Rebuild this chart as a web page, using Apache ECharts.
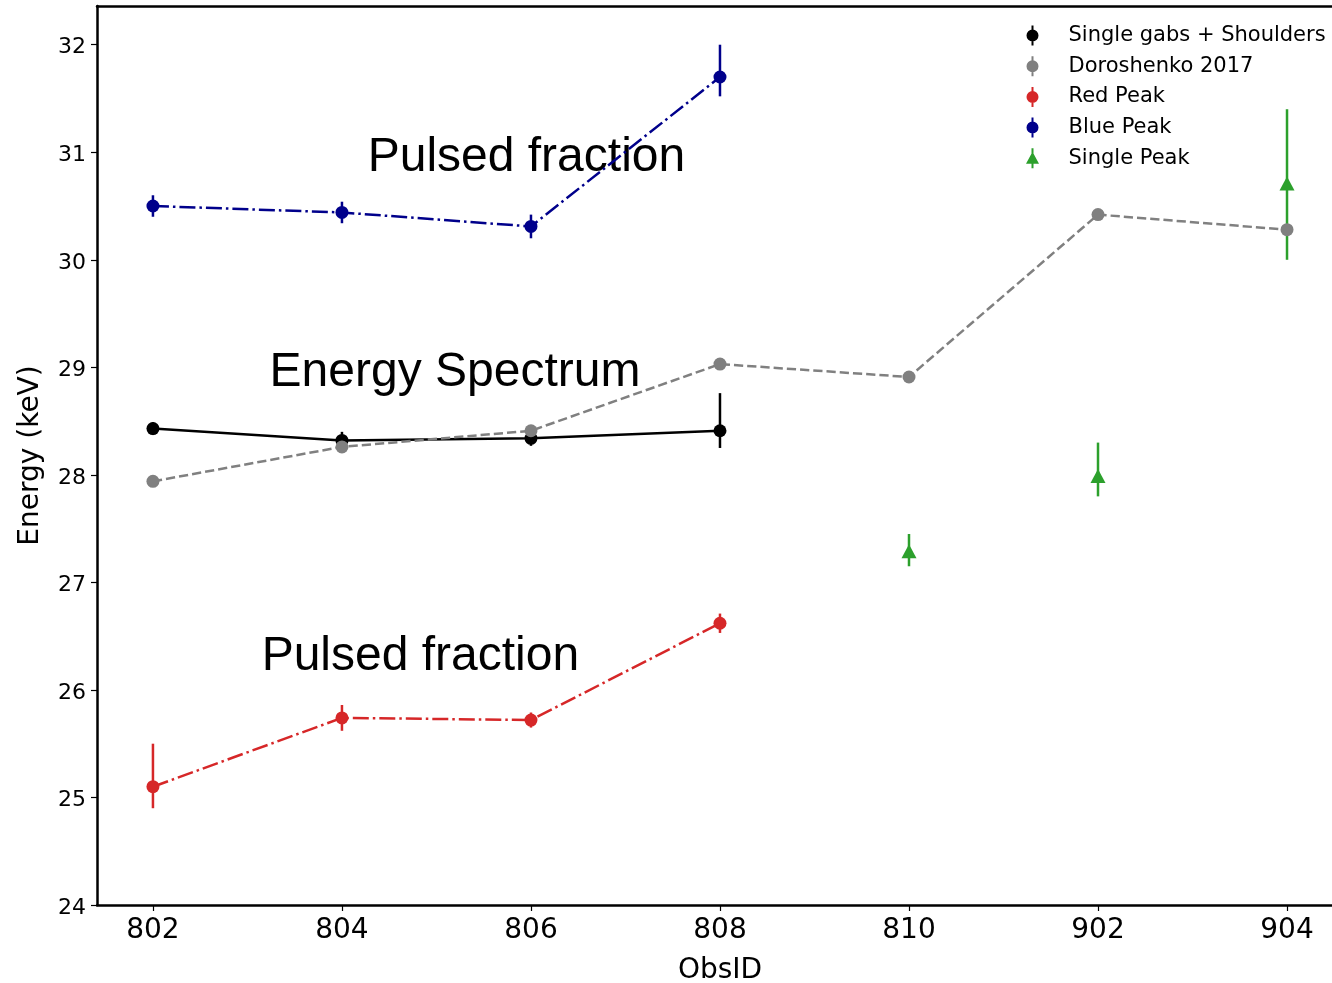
<!DOCTYPE html>
<html>
<head>
<meta charset="utf-8">
<title>Cyclotron line energy per ObsID</title>
<script src="https://cdn.jsdelivr.net/npm/echarts@6/dist/echarts.min.js"></script>
<style>
  html, body { margin: 0; padding: 0; background: #ffffff; }
  #chart { width: 1332px; height: 983px; }
</style>
</head>
<body>
<div id="chart"></div>
<script>
// Observation IDs along the x axis (plotted at positions 0..6)
const obsIds = ['802', '804', '806', '808', '810', '902', '904'];
const yTicks = [24, 25, 26, 27, 28, 29, 30, 31, 32];

// Single gabs + Shoulders
const shoulderObs = ['802', '804', '806', '808'];
const shoulderE = [28.43, 28.32, 28.34, 28.41];
const shoulderErrUp = [0.06, 0.08, 0.07, 0.35];
const shoulderErrDn = [0.06, 0.08, 0.07, 0.16];

// Doroshenko 2017
const doroObs = ['802', '804', '806', '808', '810', '902', '904'];
const doroE = [27.94, 28.26, 28.41, 29.03, 28.91, 30.42, 30.28];

// Red Peak
const redObs = ['802', '804', '806', '808'];
const redE = [25.10, 25.74, 25.72, 26.62];
const redErrUp = [0.40, 0.12, 0.07, 0.09];
const redErrDn = [0.20, 0.12, 0.07, 0.09];

// Blue Peak
const blueObs = ['802', '804', '806', '808'];
const blueE = [30.50, 30.44, 30.31, 31.70];
const blueErrUp = [0.10, 0.10, 0.11, 0.30];
const blueErrDn = [0.10, 0.10, 0.11, 0.18];

// Single Peak
const singleObs = ['810', '902', '904'];
const singleE = [27.29, 27.99, 30.71];
const singleErrUp = [0.16, 0.31, 0.69];
const singleErrDn = [0.14, 0.19, 0.71];

// Text annotations (x position, energy, text)
const noteX = [1.976, 1.598, 1.415];
const noteY = [30.95, 28.95, 26.31];
const noteText = ['Pulsed fraction', 'Energy Spectrum', 'Pulsed fraction'];

const COLORS = {
  black: '#000000',
  grey: '#808080',
  red: '#d62728',
  blue: '#00008b',
  green: '#2ca02c'
};

const pos = o => obsIds.indexOf(o);
const points = (obs, e) => obs.map((o, i) => [pos(o), e[i]]);
const bars = (obs, e, up, dn) => obs.map((o, i) => [pos(o), e[i] - dn[i], e[i] + up[i]]);

function renderErrorBar(params, api) {
  const x = api.value(0);
  const lo = api.coord([x, api.value(1)]);
  const hi = api.coord([x, api.value(2)]);
  return {
    type: 'line',
    shape: { x1: lo[0], y1: lo[1], x2: hi[0], y2: hi[1] },
    style: { stroke: api.visual('color'), lineWidth: 2.5 }
  };
}

function errorSeries(name, color, data) {
  return {
    name: name,
    type: 'custom',
    renderItem: renderErrorBar,
    data: data,
    encode: { x: 0, y: [1, 2] },
    itemStyle: { color: color, opacity: 1 },
    silent: true,
    clip: false
  };
}

function lineSeries(name, color, data, dash) {
  return {
    name: name,
    type: 'line',
    data: data,
    symbol: 'circle',
    symbolSize: 13,
    showSymbol: true,
    itemStyle: { color: color, opacity: 1 },
    lineStyle: { color: color, width: 2.5, type: dash },
    silent: true
  };
}

// Legend glyphs: marker with a vertical error bar
const ICON_DOT = 'path://M9,0 L11,0 L11,20 L9,20 Z M4,10 A6,6 0 1,1 16,10 A6,6 0 1,1 4,10 Z';
const ICON_TRI = 'path://M9,0 L11,0 L11,20 L9,20 Z M10,3.5 L16.5,15.5 L3.5,15.5 Z';

const FONT = 'DejaVu Sans';
const DASH_DOT = [16, 4, 2.5, 4];
const DASHED = [9.25, 4];

const chart = echarts.init(document.getElementById('chart'), null, { renderer: 'canvas' });

const option = {
  animation: false,
  backgroundColor: '#ffffff',
  grid: { left: 97, top: 6, right: 0, bottom: 78, containLabel: false, outerBoundsMode: 'none' },
  legend: {
    orient: 'vertical',
    left: 1021,
    top: 20,
    itemWidth: 20,
    itemHeight: 20,
    itemGap: 9.7,
    selectedMode: false,
    textStyle: { fontFamily: FONT, fontSize: 21, color: '#000', padding: [0, 0, 0, 21] },
    data: [
      { name: 'Single gabs + Shoulders', icon: ICON_DOT },
      { name: 'Doroshenko 2017', icon: ICON_DOT },
      { name: 'Red Peak', icon: ICON_DOT },
      { name: 'Blue Peak', icon: ICON_DOT },
      { name: 'Single Peak', icon: ICON_TRI }
    ]
  },
  xAxis: [
    {
      type: 'value',
      min: -0.296,
      max: 6.238,
      name: 'ObsID',
      nameLocation: 'middle',
      nameGap: 52,
      nameTextStyle: { fontFamily: FONT, fontSize: 28, color: '#000', padding: [0, 0, 0, 11] },
      axisLine: { show: true, onZero: false, lineStyle: { color: '#000', width: 2.5 } },
      axisTick: { show: true, inside: false, length: 6, lineStyle: { color: '#000', width: 1.2 },
                  customValues: obsIds.map((o, i) => i) },
      axisLabel: { fontFamily: FONT, fontSize: 28, color: '#000', margin: 12,
                   customValues: obsIds.map((o, i) => i),
                   formatter: v => obsIds[Math.round(v)] },
      splitLine: { show: false }
    },
    {
      type: 'value',
      position: 'top',
      min: -0.296,
      max: 6.238,
      axisLine: { show: true, onZero: false, lineStyle: { color: '#000', width: 2.5 } },
      axisTick: { show: false },
      axisLabel: { show: false },
      splitLine: { show: false }
    }
  ],
  yAxis: {
    type: 'value',
    min: 24,
    max: 32.36,
    name: 'Energy (keV)',
    nameLocation: 'middle',
    nameGap: 52,
    nameTextStyle: { fontFamily: FONT, fontSize: 28, color: '#000' },
    axisLine: { show: true, onZero: false, lineStyle: { color: '#000', width: 2.5 } },
    axisTick: { show: true, inside: false, length: 6, lineStyle: { color: '#000', width: 1.2 },
                customValues: yTicks },
    axisLabel: {
      fontFamily: FONT, fontSize: 22, color: '#000', margin: 11,
      customValues: yTicks,
      formatter: v => '{t|' + v + '}',
      rich: { t: { fontFamily: FONT, fontSize: 22, color: '#000', padding: [6, 0, 0, 0] } }
    },
    splitLine: { show: false }
  },
  series: [
    errorSeries('Single gabs + Shoulders', COLORS.black, bars(shoulderObs, shoulderE, shoulderErrUp, shoulderErrDn)),
    lineSeries('Single gabs + Shoulders', COLORS.black, points(shoulderObs, shoulderE), 'solid'),
    lineSeries('Doroshenko 2017', COLORS.grey, points(doroObs, doroE), DASHED),
    errorSeries('Red Peak', COLORS.red, bars(redObs, redE, redErrUp, redErrDn)),
    lineSeries('Red Peak', COLORS.red, points(redObs, redE), DASH_DOT),
    errorSeries('Blue Peak', COLORS.blue, bars(blueObs, blueE, blueErrUp, blueErrDn)),
    lineSeries('Blue Peak', COLORS.blue, points(blueObs, blueE), DASH_DOT),
    errorSeries('Single Peak', COLORS.green, bars(singleObs, singleE, singleErrUp, singleErrDn)),
    {
      name: 'Single Peak',
      type: 'scatter',
      data: points(singleObs, singleE),
      symbol: 'triangle',
      symbolSize: [15, 14],
      itemStyle: { color: COLORS.green, opacity: 1 },
      silent: true
    },
    {
      name: 'notes',
      type: 'scatter',
      data: noteText.map((t, i) => [noteX[i], noteY[i], t]),
      symbolSize: 0,
      silent: true,
      itemStyle: { opacity: 1 },
      label: {
        show: true,
        position: 'inside',
        align: 'center',
        verticalAlign: 'middle',
        fontFamily: 'Liberation Sans',
        fontSize: 48,
        color: '#000000',
        opacity: 1,
        formatter: p => p.value[2]
      }
    }
  ]
};

chart.setOption(option);
</script>
</body>
</html>
